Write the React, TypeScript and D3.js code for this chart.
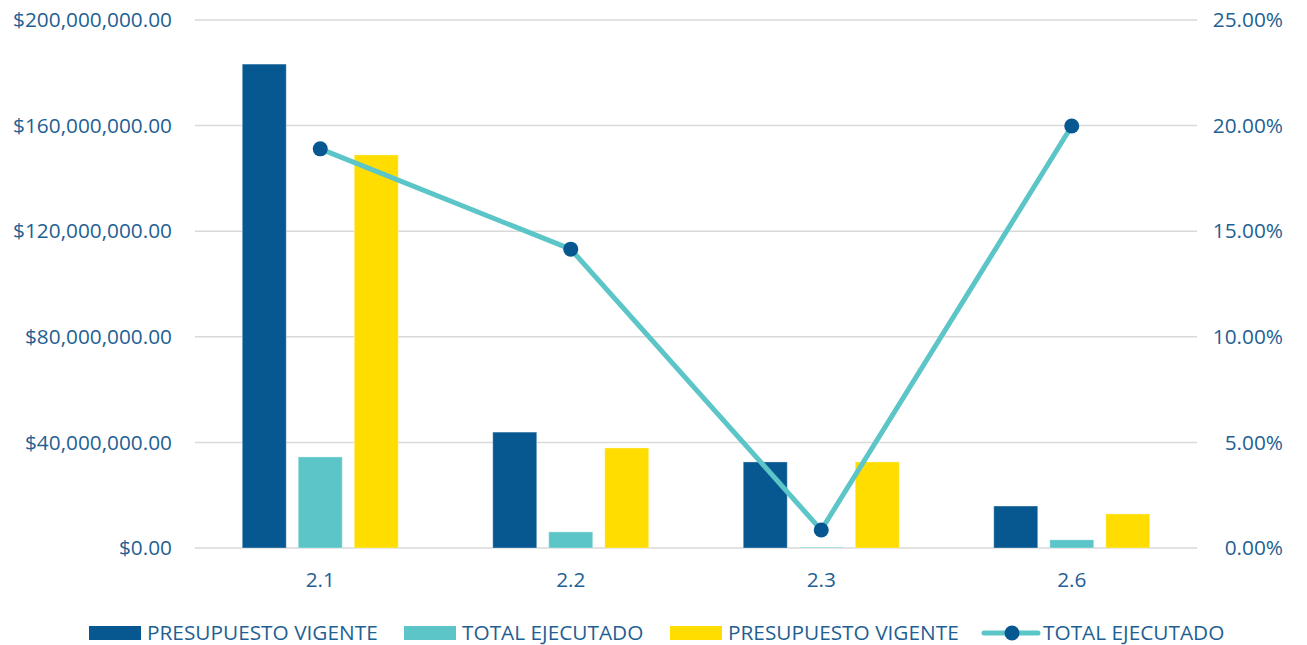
import React from "react";
import * as d3 from "d3";

const categories = ["2.1", "2.2", "2.3", "2.6"];
const presupuestoVigente = [183300000, 43900000, 32600000, 15900000];
const totalEjecutado = [34500000, 6100000, 280000, 3100000];
const presupuestoVigente2 = [148900000, 37900000, 32600000, 12900000];
const pctEjecutado = [0.189, 0.1415, 0.0085, 0.1998];
const leftTicks = [0, 40000000, 80000000, 120000000, 160000000, 200000000];
const rightTicks = [0, 0.05, 0.1, 0.15, 0.2, 0.25];
const legendLabels = ["PRESUPUESTO VIGENTE", "TOTAL EJECUTADO", "PRESUPUESTO VIGENTE", "TOTAL EJECUTADO"];

const W = 1307, H = 645;
const DARK = "#075891", TEAL = "#5bc5c7", YELLOW = "#ffdd00", TXT = "#1f5f93";
const FONT = "Open Sans, sans-serif";
const FS = 20.8;

export default function App() {
  const x = d3.scaleBand<string>().domain(categories).range([195, 1197]).padding(0);
  const y = d3.scaleLinear().domain([0, 200000000]).range([548, 20]);
  const y2 = d3.scaleLinear().domain([0, 0.25]).range([548, 20]);
  const fmtMoney = (v: number) => "$" + d3.format(",.2f")(v);
  const fmtPct = (v: number) => d3.format(".2f")(v * 100) + "%";
  const barW = 44, step = 56;
  const series = [
    { vals: presupuestoVigente, color: DARK, off: -1 },
    { vals: totalEjecutado, color: TEAL, off: 0 },
    { vals: presupuestoVigente2, color: YELLOW, off: 1 },
  ];
  const cx = (c: string) => (x(c) as number) + x.bandwidth() / 2;
  const line = d3.line<number>().x((_, i) => cx(categories[i])).y((d) => y2(d));
  const legendItems = [
    { type: "rect", color: DARK, sx: 89, tx: 147 },
    { type: "rect", color: TEAL, sx: 404, tx: 462 },
    { type: "rect", color: YELLOW, sx: 670, tx: 728 },
    { type: "line", color: TEAL, sx: 984, tx: 1043 },
  ];
  return (
    <svg width={W} height={H} style={{ position: "absolute", left: 0, top: 0, background: "#fff" }}>
      {leftTicks.map((t) => (
        <g key={"g" + t}>
          <line x1={195} x2={1197} y1={y(t)} y2={y(t)} stroke="#d9d9d9" strokeWidth={1.5} />
          <text x={172} y={y(t)} dy="0.35em" textAnchor="end" fontFamily={FONT} fontSize={FS} fill={TXT}>
            {fmtMoney(t)}
          </text>
        </g>
      ))}
      {rightTicks.map((t) => (
        <text key={"r" + t} x={1283} y={y2(t)} dy="0.35em" textAnchor="end" fontFamily={FONT} fontSize={FS} fill={TXT}>
          {fmtPct(t)}
        </text>
      ))}
      {series.map((s, si) =>
        s.vals.map((v, i) => {
          const c = categories[i];
          const bx = cx(c) + s.off * step - barW / 2;
          return (
            <rect key={si + "-" + i} x={bx} y={y(v)} width={barW} height={y(0) - y(v)} fill={s.color}
              stroke="#ffffff" strokeOpacity={0.35} strokeWidth={1} />
          );
        })
      )}
      {categories.map((c) => (
        <text key={"c" + c} x={cx(c)} y={587} textAnchor="middle" fontFamily={FONT} fontSize={FS} fill={TXT}>
          {c}
        </text>
      ))}
      <path d={line(pctEjecutado) || ""} fill="none" stroke={TEAL} strokeWidth={5} strokeLinejoin="round" />
      {pctEjecutado.map((p, i) => (
        <circle key={"m" + i} cx={cx(categories[i])} cy={y2(p)} r={7.5} fill={DARK} />
      ))}
      {legendItems.map((it, i) => (
        <g key={"l" + i}>
          {it.type === "rect" ? (
            <rect x={it.sx} y={626} width={52} height={14} fill={it.color} />
          ) : (
            <g>
              <line x1={it.sx} x2={it.sx + 54} y1={633} y2={633} stroke={it.color} strokeWidth={5} strokeLinecap="round" />
              <circle cx={it.sx + 28} cy={633} r={7.5} fill={DARK} />
            </g>
          )}
          <text x={it.tx} y={633} dy="0.35em" fontFamily={FONT} fontSize={FS} fill={TXT}>
            {legendLabels[i]}
          </text>
        </g>
      ))}
    </svg>
  );
}
